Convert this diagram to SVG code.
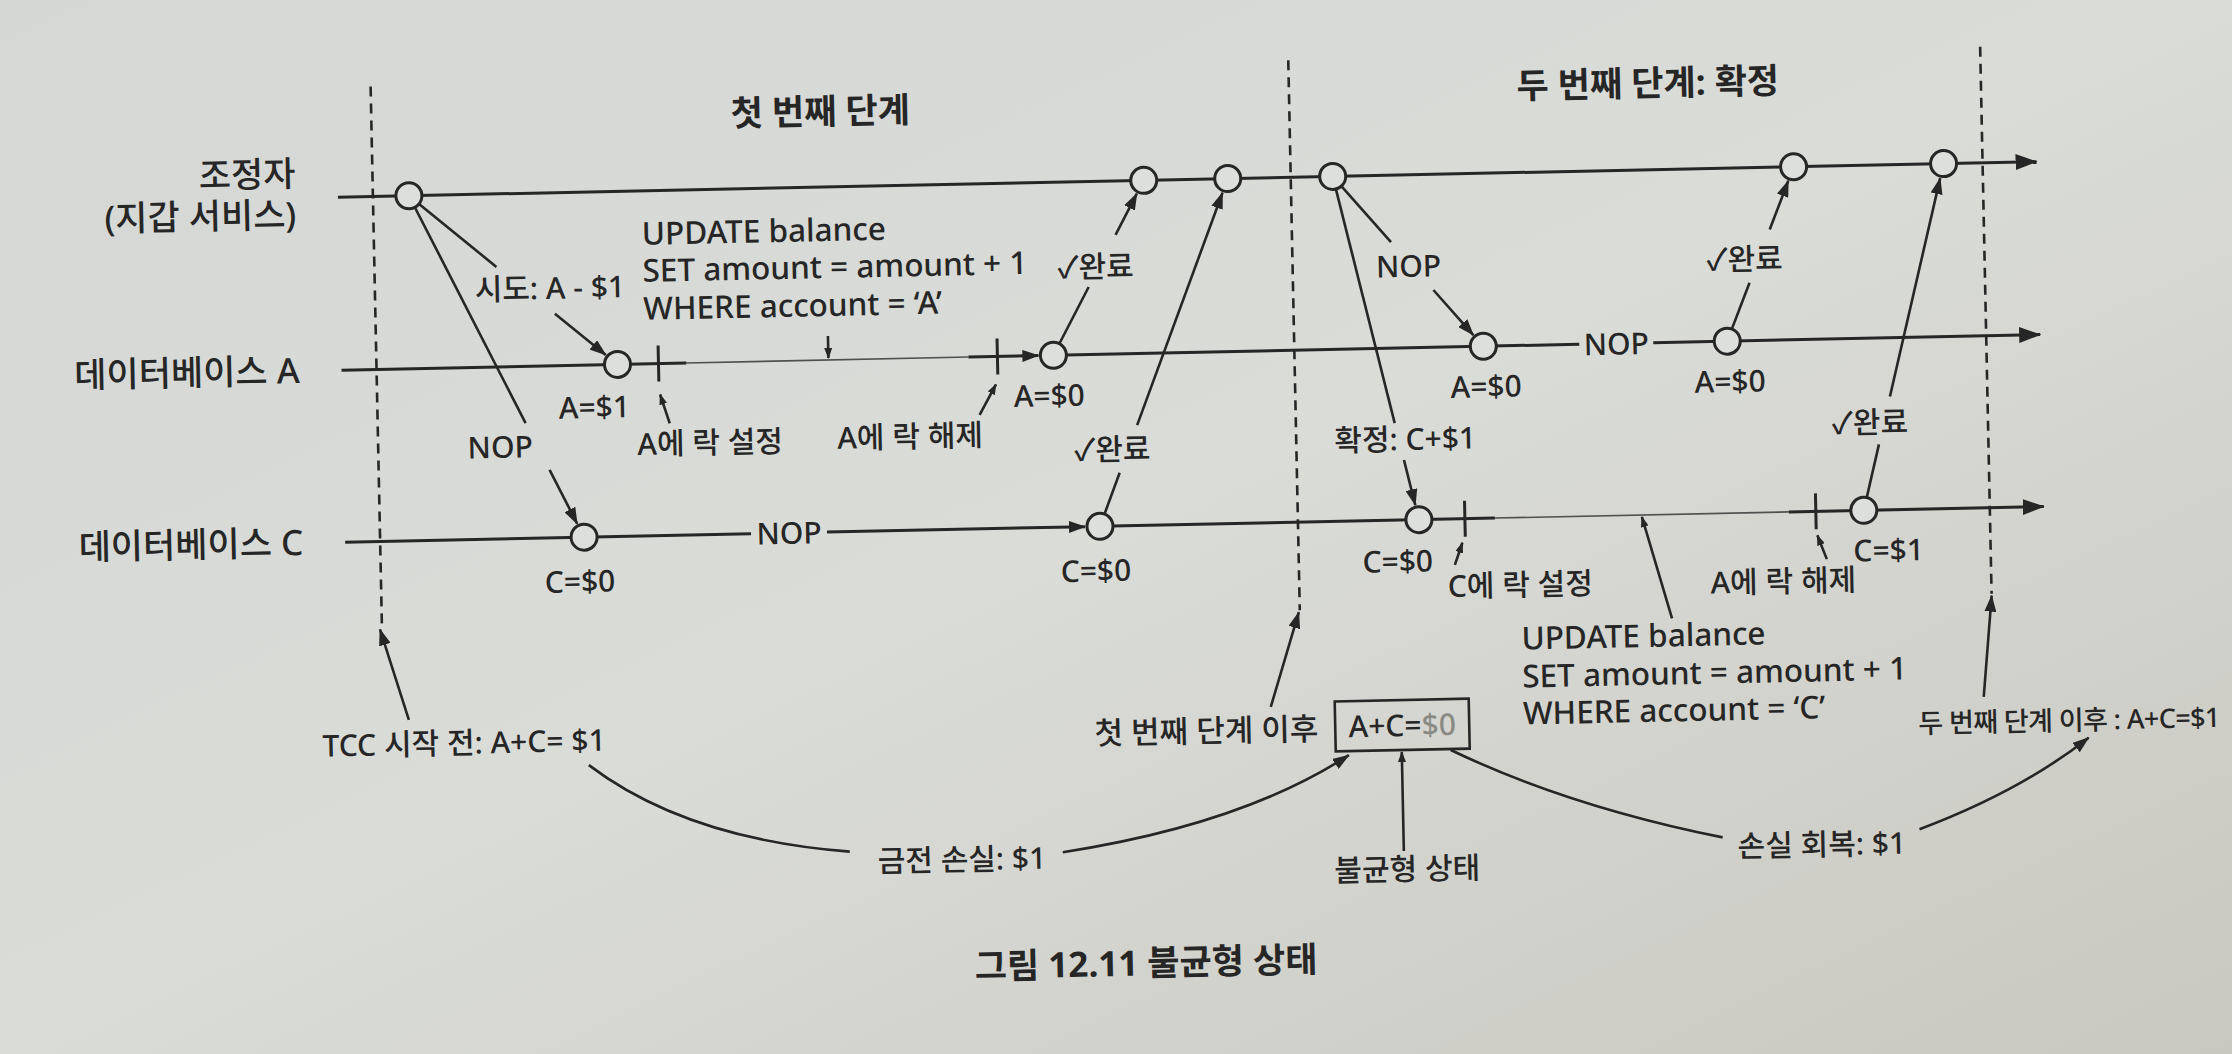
<svg xmlns="http://www.w3.org/2000/svg" width="2232" height="1054" viewBox="0 0 2232 1054">
<defs>
<linearGradient id="paper" x1="0" y1="0" x2="1" y2="1">
<stop offset="0" stop-color="#d4d7d4"/>
<stop offset="0.5" stop-color="#dadcd8"/>
<stop offset="1" stop-color="#c9c8c0"/>
</linearGradient>
<marker id="al" markerUnits="userSpaceOnUse" markerWidth="22" markerHeight="16" viewBox="0 0 22 16" refX="21" refY="8" orient="auto"><path d="M0,0 L22,8 L0,16 z" fill="#262626"/></marker>
<marker id="ah" markerUnits="userSpaceOnUse" markerWidth="17" markerHeight="12" viewBox="0 0 17 12" refX="16" refY="6" orient="auto"><path d="M0,0 L17,6 L0,12 z" fill="#262626"/></marker>
<marker id="as" markerUnits="userSpaceOnUse" markerWidth="11" markerHeight="8" viewBox="0 0 11 8" refX="10" refY="4" orient="auto"><path d="M0,0 L11,4 L0,8 z" fill="#262626"/></marker>
<style>
.ln{stroke:#262626;stroke-width:3;fill:none}
.thin{stroke:#505050;stroke-width:1.6;fill:none}
.msg{stroke:#262626;stroke-width:2.6;fill:none}
.dash{stroke:#262626;stroke-width:2.6;stroke-dasharray:10 7;fill:none}
.ev{fill:#dcdfdb;stroke:#262626;stroke-width:3}
text{font-family:"Noto Sans","Noto Sans CJK KR",sans-serif;fill:#262626;font-weight:500}
.lane{font-size:35px;text-anchor:end}
.ttl{font-size:35px;font-weight:bold;text-anchor:middle}
.lb{font-size:30px;text-anchor:middle}
.sql{font-size:31.5px}
.box{fill:none;stroke:#262626;stroke-width:2.6}
</style>
</defs>
<rect x="0" y="0" width="2232" height="1054" fill="url(#paper)"/>
<g transform="rotate(-1.2 1116 527)">
<g id="titles">
<text class="ttl" x="829" y="118">첫 번째 단계</text>
<text class="ttl" x="1657" y="107">두 번째 단계: 확정</text>
</g>
<g id="lane-coordinator">
<text class="lane" x="303" y="169">조정자</text>
<text class="lane" x="303" y="210">(지갑 서비스)</text>
</g>
<g id="lane-db-a">
<text class="lane" x="303" y="366">데이터베이스 A</text>
</g>
<g id="lane-db-c">
<text class="lane" x="303" y="538">데이터베이스 C</text>
</g>
<g id="connectors">
<path class="dash" d="M380,71 V612"/>
<path class="dash" d="M1298,64 V614"/>
<path class="dash" d="M1990,65 V612"/>
<path class="ln" d="M345,181 H2044" marker-end="url(#al)"/>
<path class="ln" d="M345,354 H690"/>
<path class="thin" d="M690,354 H972"/>
<path class="ln" d="M972,354 H1042" marker-end="url(#ah)"/>
<path class="ln" d="M1057,354 H1583"/>
<path class="ln" d="M1657,354 H2044" marker-end="url(#al)"/>
<path class="ln" d="M345,526 H751"/>
<path class="ln" d="M827,526 H1085" marker-end="url(#ah)"/>
<path class="ln" d="M1100,526 H1495"/>
<path class="thin" d="M1495,526 H1789"/>
<path class="ln" d="M1789,526 H2044" marker-end="url(#al)"/>
<path class="ln" d="M662,336 V372"/>
<path class="ln" d="M1001,336 V372"/>
<path class="ln" d="M1465,508 V544"/>
<path class="ln" d="M1816,508 V544"/>
<path class="msg" d="M672,414 L663,385" marker-end="url(#as)"/>
<path class="msg" d="M982,412 L999,382" marker-end="url(#as)"/>
<path class="msg" d="M1454,572 L1462,550" marker-end="url(#as)"/>
<path class="msg" d="M1826,574 L1817,550" marker-end="url(#as)"/>
<path class="msg" d="M832,330 V352" marker-end="url(#as)"/>
<path class="msg" d="M1670,630 L1642,528" marker-end="url(#as)"/>
<path class="msg" d="M416,181 L502,254"/>
<path class="msg" d="M559.5,302 L609.5,344.3" marker-end="url(#ah)"/>
<path class="msg" d="M416,181 L527.9,410.8"/>
<path class="msg" d="M550.9,458 L577.4,512.5" marker-end="url(#ah)"/>
<path class="msg" d="M1057,354 L1093.7,286.5"/>
<path class="msg" d="M1121.7,235 L1143.8,194.2" marker-end="url(#ah)"/>
<path class="msg" d="M1100,526 L1120.8,472.9"/>
<path class="msg" d="M1139.3,425.6 L1229.5,195" marker-end="url(#ah)"/>
<path class="msg" d="M1340,181 L1396.9,248"/>
<path class="msg" d="M1438.3,296.7 L1477.3,342.6" marker-end="url(#ah)"/>
<path class="msg" d="M1340,181 L1396.8,429"/>
<path class="msg" d="M1405.3,466 L1415.7,511.4" marker-end="url(#ah)"/>
<path class="msg" d="M1731,354 L1754.5,296"/>
<path class="msg" d="M1775.8,243.3 L1795.4,194.9" marker-end="url(#ah)"/>
<path class="msg" d="M1864,526 L1880.5,460.4"/>
<path class="msg" d="M1892.5,412.8 L1947.3,195.5" marker-end="url(#ah)"/>
<path class="msg" d="M405,705 L378,614" marker-end="url(#ah)"/>
<path class="msg" d="M1267,710 L1297,616" marker-end="url(#ah)"/>
<path class="msg" d="M1980,715 L1990,614" marker-end="url(#ah)"/>
<path class="msg" d="M584,754 Q680,830 843,846"/>
<path class="msg" d="M1056,851 Q1236,827 1344,760" marker-end="url(#ah)"/>
<path class="msg" d="M1446,757 Q1563,816 1716,850"/>
<path class="msg" d="M1913,846 Q2015,810 2084,758" marker-end="url(#ah)"/>
<path class="msg" d="M1397,857 V758" marker-end="url(#as)"/>
</g>
<g id="ev-coordinator">
<circle class="ev" cx="416" cy="181" r="13"/>
<circle class="ev" cx="1151" cy="181" r="13"/>
<circle class="ev" cx="1235" cy="181" r="13"/>
<circle class="ev" cx="1340" cy="181" r="13"/>
<circle class="ev" cx="1801" cy="181" r="13"/>
<circle class="ev" cx="1951" cy="181" r="13"/>
</g>
<g id="ev-db-a">
<circle class="ev" cx="621" cy="354" r="13"/>
<circle class="ev" cx="1057" cy="354" r="13"/>
<circle class="ev" cx="1487" cy="354" r="13"/>
<circle class="ev" cx="1731" cy="354" r="13"/>
<text class="lb" x="597" y="407">A=$1</text>
<text class="lb" x="1052" y="405">A=$0</text>
<text class="lb" x="1489" y="405">A=$0</text>
<text class="lb" x="1620" y="365">NOP</text>
<text class="lb" x="1733" y="405">A=$0</text>
<text class="lb" x="712" y="445">A에 락 설정</text>
<text class="lb" x="912" y="443">A에 락 해제</text>
</g>
<g id="ev-db-c">
<circle class="ev" cx="584" cy="526" r="13"/>
<circle class="ev" cx="1100" cy="526" r="13"/>
<circle class="ev" cx="1419" cy="526" r="13"/>
<circle class="ev" cx="1864" cy="526" r="13"/>
<text class="lb" x="579" y="581">C=$0</text>
<text class="lb" x="789" y="537">NOP</text>
<text class="lb" x="1095" y="581">C=$0</text>
<text class="lb" x="1397" y="578">C=$0</text>
<text class="lb" x="1888" y="577">C=$1</text>
<text class="lb" x="1519" y="604">C에 락 설정</text>
<text class="lb" x="1782" y="606">A에 락 해제</text>
</g>
<g id="msg-labels">
<text class="lb" x="555" y="287">시도: A - $1</text>
<text class="lb" x="502" y="445">NOP</text>
<text class="lb" x="1101" y="277">✓완료</text>
<text class="lb" x="1114" y="460">✓완료</text>
<text class="lb" x="1414" y="283">NOP</text>
<text class="lb" x="1407" y="456">확정: C+$1</text>
<text class="lb" x="1750" y="283">✓완료</text>
<text class="lb" x="1872" y="449">✓완료</text>
</g>
<g id="sql-a">
<text class="sql" x="648" y="235">UPDATE balance</text>
<text class="sql" x="648" y="272">SET amount = amount + 1</text>
<text class="sql" x="648" y="310">WHERE account = ‘A’</text>
</g>
<g id="sql-c">
<text class="sql" x="1519" y="658">UPDATE balance</text>
<text class="sql" x="1519" y="696">SET amount = amount + 1</text>
<text class="sql" x="1519" y="733">WHERE account = ‘C’</text>
</g>
<g id="state-before">
<text class="lb" x="318" y="740" style="text-anchor:start">TCC 시작 전: A+C= $1</text>
</g>
<g id="state-loss">
<text class="lb" x="955" y="867">금전 손실: $1</text>
</g>
<g id="state-after-first">
<text class="lb" x="1314" y="744" style="text-anchor:end;font-size:31px">첫 번째 단계 이후</text>
<rect class="box" x="1331" y="706" width="134" height="50"/>
<text class="lb" x="1398" y="742">A+C=<tspan fill="#8a8a84">$0</tspan></text>
</g>
<g id="state-imbalance">
<text class="lb" x="1400" y="886">불균형 상태</text>
</g>
<g id="state-recover">
<text class="lb" x="1815" y="870">손실 회복: $1</text>
</g>
<g id="state-after-second">
<text x="1914" y="750" style="font-size:27px;letter-spacing:-0.6px">두 번째 단계 이후 : A+C=$1</text>
</g>
<g id="caption">
<text class="ttl" x="1137" y="976">그림 12.11 불균형 상태</text>
</g>
</g>
</svg>
